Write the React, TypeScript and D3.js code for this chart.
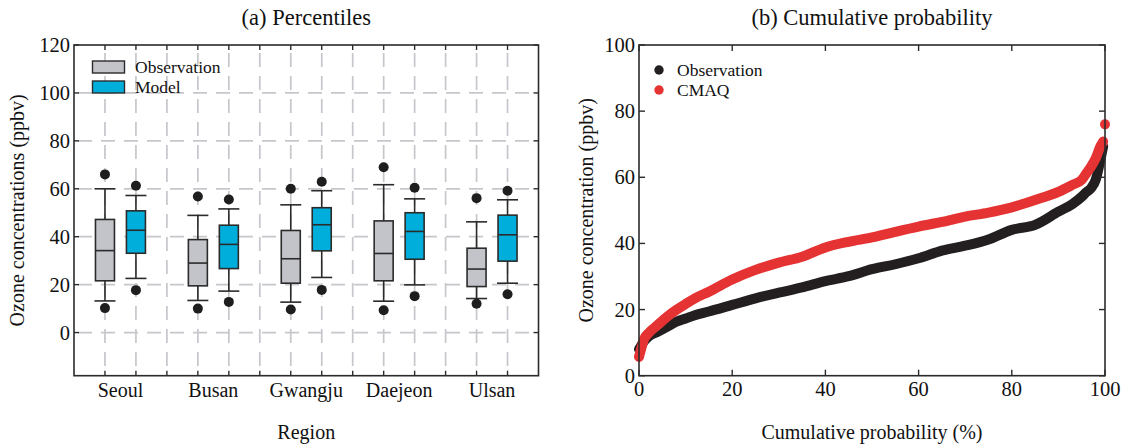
import * as d3 from "d3";

const regions = ["Seoul", "Busan", "Gwangju", "Daejeon", "Ulsan"];

// [low dot, whisker low, q1, median, q3, whisker high, high dot]
const obsStats = [
  [10.2, 13.2, 21.6, 34.2, 47.2, 60.0, 66.0],
  [10.0, 13.4, 19.5, 29.0, 38.8, 48.9, 56.8],
  [9.6, 12.7, 20.6, 30.8, 42.6, 53.3, 60.0],
  [9.3, 13.1, 21.6, 33.0, 46.6, 61.7, 69.0],
  [12.0, 14.2, 19.2, 26.5, 35.2, 46.2, 56.1],
];
const modelStats = [
  [17.7, 22.6, 33.1, 42.7, 50.8, 57.2, 61.3],
  [12.8, 17.3, 26.7, 36.8, 44.8, 51.6, 55.5],
  [17.8, 23.0, 34.1, 45.0, 52.1, 59.2, 62.9],
  [15.2, 19.9, 30.6, 42.2, 50.0, 55.8, 60.4],
  [16.0, 20.6, 29.8, 40.8, 49.0, 55.4, 59.2],
];
const leftTicks = [0, 20, 40, 60, 80, 100, 120];

// cumulative probability curves
const cdfProb = [0, 0.5, 1, 2, 4, 6, 8, 10, 12, 15, 20, 25, 30, 35, 40, 45, 50, 55, 60, 65, 70, 75, 80, 85, 90, 93, 95, 96, 97, 98, 99, 99.6];
const obsConc = [8.0, 9.2, 10.3, 11.8, 13.3, 14.8, 16.3, 17.3, 18.3, 19.4, 21.4, 23.4, 25.1, 26.7, 28.6, 30.1, 32.2, 33.7, 35.5, 37.8, 39.3, 41.2, 44.1, 45.6, 49.6, 51.9, 54.1, 55.5, 56.7, 59.2, 65.2, 69.3];
const cmaqConc = [5.7, 8.3, 10.8, 12.8, 15.3, 17.8, 19.9, 21.7, 23.4, 25.4, 29.1, 32.0, 34.2, 36.0, 38.8, 40.5, 41.8, 43.5, 45.1, 46.5, 48.1, 49.3, 50.9, 53.1, 55.6, 57.7, 59.2, 61.2, 63.2, 65.7, 69.3, 70.8];
const cmaqMax = { p: 100, v: 76.0 };
const rightTicks = [0, 20, 40, 60, 80, 100];

const FONT = "'Liberation Serif', 'DejaVu Serif', serif";
const INK = "#2b2b2b";
const GRID = "#c6c7cc";
const TICK_FS = 20.5;
const LABEL_FS = 20;

export default function App() {
  const top = 45;
  const bottom = 375.7;

  const xL = d3.scaleLinear().domain([0, 15]).range([74, 538.5]);
  const yL = d3.scaleLinear().domain([-18, 120]).range([bottom, top]);
  const xR = d3.scaleLinear().domain([0, 100]).range([639, 1105]);
  const yR = d3.scaleLinear().domain([0, 100]).range([bottom, top]);

  const slots = d3.range(1, 15);
  const boxW = 19;
  const capW = 21;

  const line = (vals: number[]) =>
    d3
      .line<number>()
      .x((_, i) => xR(cdfProb[i]))
      .y((v) => yR(v))
      .curve(d3.curveMonotoneX)(vals) || "";

  const drawBox = (s: number[], slot: number, fill: string, key: string) => {
    const cx = xL(slot);
    return (
      <g key={key}>
        <line x1={cx} x2={cx} y1={yL(s[1])} y2={yL(s[5])} stroke={INK} strokeWidth={1.6} />
        <line x1={cx - capW / 2} x2={cx + capW / 2} y1={yL(s[1])} y2={yL(s[1])} stroke={INK} strokeWidth={1.6} />
        <line x1={cx - capW / 2} x2={cx + capW / 2} y1={yL(s[5])} y2={yL(s[5])} stroke={INK} strokeWidth={1.6} />
        <rect x={cx - boxW / 2} y={yL(s[4])} width={boxW} height={yL(s[2]) - yL(s[4])} fill={fill} stroke={INK} strokeWidth={1.6} />
        <line x1={cx - boxW / 2} x2={cx + boxW / 2} y1={yL(s[3])} y2={yL(s[3])} stroke={INK} strokeWidth={1.6} />
        <circle cx={cx} cy={yL(s[0])} r={5} fill="#1e1e1e" />
        <circle cx={cx} cy={yL(s[6])} r={5} fill="#1e1e1e" />
      </g>
    );
  };

  return (
    <svg
      width={1127}
      height={446}
      style={{ position: "absolute", left: 0, top: 0, background: "#fff" }}
      fontFamily={FONT}
    >
      {/* ---------- (a) Percentiles ---------- */}
      <text x={(xL(0) + xL(15)) / 2} y={25} fontSize={22.5} textAnchor="middle" fill="#111">
        (a) Percentiles
      </text>

      {/* grid */}
      {leftTicks
        .filter((t) => t < 120)
        .map((t) => (
          <line key={"hg" + t} x1={xL(0)} x2={xL(15)} y1={yL(t)} y2={yL(t)} stroke={GRID} strokeWidth={1.7} strokeDasharray="14,9" strokeDashoffset={-4} />
        ))}
      {slots.map((s) => (
        <line key={"vg" + s} x1={xL(s)} x2={xL(s)} y1={top} y2={bottom} stroke={GRID} strokeWidth={1.7} strokeDasharray="14,9" strokeDashoffset={-8} />
      ))}

      {/* boxes */}
      {regions.map((r, i) => drawBox(obsStats[i], 3 * i + 1, "#c2c4ca", "o" + r))}
      {regions.map((r, i) => drawBox(modelStats[i], 3 * i + 2, "#00aedc", "m" + r))}

      {/* frame and ticks */}
      <rect x={xL(0)} y={top} width={xL(15) - xL(0)} height={bottom - top} fill="none" stroke={INK} strokeWidth={1.6} />
      {slots.map((s) => (
        <g key={"xt" + s}>
          <line x1={xL(s)} x2={xL(s)} y1={top} y2={top + 5} stroke={INK} strokeWidth={1.4} />
          <line x1={xL(s)} x2={xL(s)} y1={bottom} y2={bottom - 5} stroke={INK} strokeWidth={1.4} />
        </g>
      ))}
      {leftTicks.map((t) => (
        <g key={"yt" + t}>
          <line x1={xL(0)} x2={xL(0) + 5} y1={yL(t)} y2={yL(t)} stroke={INK} strokeWidth={1.4} />
          <line x1={xL(15)} x2={xL(15) - 5} y1={yL(t)} y2={yL(t)} stroke={INK} strokeWidth={1.4} />
          <text x={xL(0) - 4} y={yL(t)} dy="0.34em" fontSize={TICK_FS} textAnchor="end" fill="#111">
            {t}
          </text>
        </g>
      ))}
      {regions.map((r, i) => (
        <text key={"xl" + r} x={xL(3 * i + 1.5)} y={397} fontSize={LABEL_FS} textAnchor="middle" fill="#111">
          {r}
        </text>
      ))}
      <text x={(xL(0) + xL(15)) / 2} y={439} fontSize={LABEL_FS} textAnchor="middle" fill="#111">
        Region
      </text>
      <text transform={`translate(24, ${(top + bottom) / 2}) rotate(-90)`} fontSize={LABEL_FS} textAnchor="middle" fill="#111">
        Ozone concentrations (ppbv)
      </text>

      {/* legend */}
      <rect x={92.5} y={61} width={32} height={12} fill="#c2c4ca" stroke={INK} strokeWidth={1.4} />
      <rect x={92.5} y={81} width={32} height={12} fill="#00aedc" stroke={INK} strokeWidth={1.4} />
      <text x={135} y={73} fontSize={17.5} fill="#111">Observation</text>
      <text x={135} y={93} fontSize={17.5} fill="#111">Model</text>

      {/* ---------- (b) Cumulative probability ---------- */}
      <text x={(xR(0) + xR(100)) / 2} y={25} fontSize={22.5} textAnchor="middle" fill="#111">
        (b) Cumulative probability
      </text>

      <path d={line(obsConc)} fill="none" stroke="#231f20" strokeWidth={10} strokeLinecap="round" strokeLinejoin="round" />
      <path d={line(cmaqConc)} fill="none" stroke="#e53333" strokeWidth={10} strokeLinecap="round" strokeLinejoin="round" />
      <circle cx={xR(cmaqMax.p)} cy={yR(cmaqMax.v)} r={5} fill="#e53333" />

      <rect x={xR(0)} y={top} width={xR(100) - xR(0)} height={bottom - top} fill="none" stroke={INK} strokeWidth={1.6} />
      {rightTicks.map((t) => (
        <g key={"rt" + t}>
          <line x1={xR(t)} x2={xR(t)} y1={top} y2={top + 6} stroke={INK} strokeWidth={1.4} />
          <line x1={xR(t)} x2={xR(t)} y1={bottom} y2={bottom - 6} stroke={INK} strokeWidth={1.4} />
          <line x1={xR(0)} x2={xR(0) + 6} y1={yR(t)} y2={yR(t)} stroke={INK} strokeWidth={1.4} />
          <line x1={xR(100)} x2={xR(100) - 6} y1={yR(t)} y2={yR(t)} stroke={INK} strokeWidth={1.4} />
          <text x={xR(0) - 4} y={yR(t)} dy="0.34em" fontSize={TICK_FS} textAnchor="end" fill="#111">
            {t}
          </text>
          <text x={xR(t)} y={396} fontSize={TICK_FS} textAnchor="middle" fill="#111">
            {t}
          </text>
        </g>
      ))}
      <text x={(xR(0) + xR(100)) / 2} y={439} fontSize={LABEL_FS} textAnchor="middle" fill="#111">
        Cumulative probability (%)
      </text>
      <text transform={`translate(593, ${(top + bottom) / 2}) rotate(-90)`} fontSize={LABEL_FS} textAnchor="middle" fill="#111">
        Ozone concentration (ppbv)
      </text>

      <circle cx={659} cy={70} r={4.7} fill="#231f20" />
      <circle cx={659} cy={90} r={4.7} fill="#e53333" />
      <text x={677} y={75.5} fontSize={17.5} fill="#111">Observation</text>
      <text x={677} y={95.5} fontSize={17.5} fill="#111">CMAQ</text>
    </svg>
  );
}
